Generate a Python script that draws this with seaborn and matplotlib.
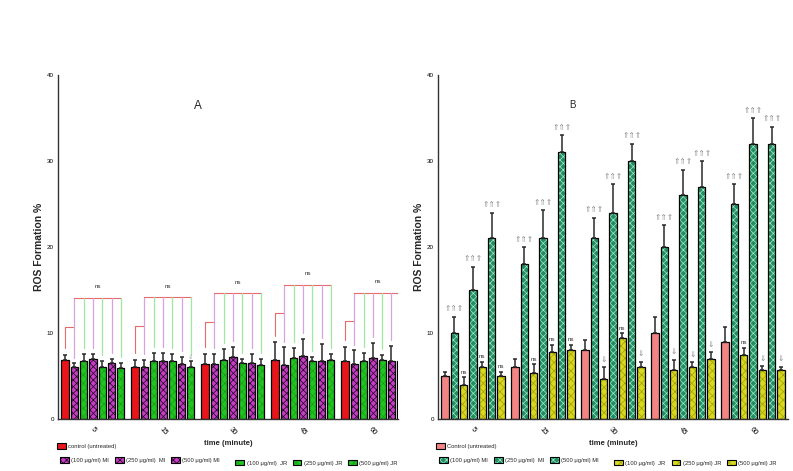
import matplotlib.pyplot as plt
from matplotlib.colors import to_rgba
from matplotlib.patches import Patch
import numpy as np
import pandas as pd
import seaborn as sns

times = ["5", "15", "30", "45", "60"]
series = ["control", "MI100", "JR100", "MI250", "JR250", "MI500", "JR500"]

# panel A: means and upper error per series, one value per time point
a_control = [6.9, 6.0, 6.4, 6.9, 6.7]
a_mi100 = [6.0, 6.0, 6.4, 6.3, 6.4]
a_jr100 = [6.7, 6.8, 6.9, 7.1, 6.8]
a_mi250 = [7.0, 6.8, 7.2, 7.3, 7.1]
a_jr250 = [6.0, 6.8, 6.5, 6.7, 6.9]
a_mi500 = [6.5, 6.4, 6.5, 6.7, 6.8]
a_jr500 = [5.9, 6.1, 6.3, 6.9, 6.7]
a_control_err = [0.5, 0.9, 1.2, 2.0, 1.7]
a_mi100_err = [0.5, 0.9, 1.2, 2.1, 1.6]
a_jr100_err = [0.9, 0.9, 1.2, 1.2, 0.9]
a_mi250_err = [0.5, 0.9, 1.2, 2.0, 1.7]
a_jr250_err = [0.7, 0.8, 0.5, 0.5, 0.5]
a_mi500_err = [0.5, 0.8, 1.1, 2.0, 1.7]
a_jr500_err = [0.6, 0.6, 0.7, 0.7, 0.5]
a_step = [10.7, 10.85, 11.3, 12.3, 11.4]
a_top = [14.1, 14.15, 14.6, 15.6, 14.7]

# panel B
b_control = [5.0, 6.0, 8.0, 10.0, 9.0]
b_mi100 = [10.0, 18.0, 21.0, 20.0, 25.0]
b_jr100 = [4.0, 5.4, 4.7, 5.7, 7.4]
b_mi250 = [15.0, 21.0, 24.0, 26.0, 32.0]
b_jr250 = [6.0, 7.8, 9.4, 6.0, 5.7]
b_mi500 = [21.0, 31.0, 30.0, 27.0, 32.0]
b_jr500 = [5.0, 8.0, 6.0, 7.0, 5.7]
b_control_err = [0.5, 1.0, 1.2, 1.9, 1.7]
b_mi100_err = [1.9, 2.0, 2.4, 2.5, 2.3]
b_jr100_err = [0.85, 0.95, 1.35, 1.2, 0.9]
b_mi250_err = [2.7, 3.3, 3.3, 3.0, 3.0]
b_jr250_err = [0.65, 0.8, 0.55, 0.6, 0.45]
b_mi500_err = [3.0, 2.0, 2.0, 3.0, 2.0]
b_jr500_err = [0.5, 0.6, 0.65, 0.75, 0.4]
b_marks = [
    ["", "⇑⇑⇑", "ns", "⇑⇑⇑", "ns", "⇑⇑⇑", "ns"],
    ["", "⇑⇑⇑", "ns", "⇑⇑⇑", "ns", "⇑⇑⇑", "ns"],
    ["", "⇑⇑⇑", "⇓", "⇑⇑⇑", "ns", "⇑⇑⇑", "⇓"],
    ["", "⇑⇑⇑", "⇓", "⇑⇑⇑", "⇓", "⇑⇑⇑", "⇓"],
    ["", "⇑⇑⇑", "ns", "⇑⇑⇑", "⇓", "⇑⇑⇑", "⇓"],
]

labels_a = ["control (untreated)", "(100 μg/ml) MI", "(100 μg/ml)  JR",
            "(250 μg/ml)  MI", "(250 μg/ml) JR", "(500 μg/ml) MI", "(500 μg/ml) JR"]
labels_b = ["Control (untreated)", "(100 μg/ml) MI", "(100 μg/ml)  JR",
            "(250 μg/ml)  MI", "(250 μg/ml) JR", "(500 μg/ml) MI", "(500 μg/ml) JR"]

# face, hatch, hatch colour
style_a = {
    "control": ("#e8161b", "", "black"),
    "MI": ("#c53cc5", "xxxxx", "#1a001a"),
    "JR": ("#22c422", "xxxx", "#14a014"),
}
style_b = {
    "control": ("#f28484", "", "black"),
    "MI": ("#1d8f63", "xxxxx", "#a8e8c8"),
    "JR": ("#d8d81e", "xxxx", "#a0a010"),
}

sns.set_style("white")
plt.rcParams["font.family"] = ["Liberation Sans", "DejaVu Sans"]
plt.rcParams["hatch.linewidth"] = 0.5


def kind(s):
    return "control" if s == "control" else s[:2]


def styled_patch(face, hatch, hcolor):
    p = Patch(facecolor=face, edgecolor="black", hatch=hatch or None, linewidth=0.8)
    p._hatch_color = to_rgba(hcolor)
    return p


def draw_panel(ax, values, errors, style):
    rows = []
    for s in series:
        for t, v in zip(times, values[s]):
            rows.append({"time": t, "series": s, "value": v})
    df = pd.DataFrame(rows)
    sns.barplot(data=df, x="time", y="value", hue="series", hue_order=series,
                order=times, errorbar=None, width=0.93, gap=0.22,
                edgecolor="black", linewidth=0.9, legend=False, ax=ax)
    centers = {}
    for s, cont in zip(series, ax.containers):
        face, hatch, hcolor = style[kind(s)]
        xs = []
        for bar in cont:
            bar.set_facecolor(face)
            bar.set_edgecolor("black")
            if hatch:
                bar.set_hatch(hatch)
                bar._hatch_color = to_rgba(hcolor)
            xs.append(bar.get_x() + bar.get_width() / 2)
        centers[s] = np.array(xs)
        err = np.array(errors[s])
        ax.errorbar(xs, values[s], yerr=[np.zeros_like(err), err], fmt="none",
                    ecolor="#2a2a2a", elinewidth=1.1, capsize=1.6, capthick=1.1,
                    zorder=3)
    ax.set_ylim(0, 40)
    ax.set_yticks([0, 10, 20, 30, 40])
    sns.despine(ax=ax)
    for sp in ["left", "bottom"]:
        ax.spines[sp].set_color("#333333")
        ax.spines[sp].set_linewidth(1.0)
    ax.tick_params(axis="both", which="both", direction="out", length=2,
                   width=0.8, labelsize=4.5, pad=1, colors="#333333")
    ax.tick_params(axis="both", labelcolor="black")
    ax.tick_params(axis="x", labelsize=5.5, pad=3)
    plt.setp(ax.get_xticklabels(), rotation=-50, ha="center", va="top")
    ax.set_ylabel("ROS Formation %", fontsize=7.5, fontweight="bold", labelpad=2)
    ax.set_xlabel("time (minute)", fontsize=5.5, fontweight="bold", labelpad=2)
    return centers


fig = plt.figure(figsize=(7.93, 4.71), dpi=100)
ax_a = fig.add_axes([0.0731, 0.1104, 0.4289, 0.7304])
ax_b = fig.add_axes([0.5523, 0.1104, 0.4414, 0.7304])

vals_a = dict(zip(series, [a_control, a_mi100, a_jr100, a_mi250, a_jr250, a_mi500, a_jr500]))
errs_a = dict(zip(series, [a_control_err, a_mi100_err, a_jr100_err, a_mi250_err,
                           a_jr250_err, a_mi500_err, a_jr500_err]))
vals_b = dict(zip(series, [b_control, b_mi100, b_jr100, b_mi250, b_jr250, b_mi500, b_jr500]))
errs_b = dict(zip(series, [b_control_err, b_mi100_err, b_jr100_err, b_mi250_err,
                           b_jr250_err, b_mi500_err, b_jr500_err]))

ca = draw_panel(ax_a, vals_a, errs_a, style_a)
cb = draw_panel(ax_b, vals_b, errs_b, style_b)
ax_a.set_xlim(-0.5, 4.36)
ax_b.set_xlim(-0.5, 4.5)

# significance brackets, panel A
red, purple, green = "#e86a6a", "#d9a2e0", "#9fe89f"
for i in range(len(times)):
    tops = {s: vals_a[s][i] + errs_a[s][i] for s in series}
    xc, xm = ca["control"][i], ca["MI100"][i]
    xe = ca["JR500"][i]
    ax_a.plot([xc, xc], [tops["control"] + 0.8, a_step[i]], color=red, lw=0.8)
    ax_a.plot([xc, xm], [a_step[i], a_step[i]], color=red, lw=0.8)
    ax_a.plot([xm, xm], [tops["MI100"] + 0.6, a_top[i]], color=purple, lw=0.9)
    ax_a.plot([xm, xe], [a_top[i], a_top[i]], color=red, lw=0.8)
    for s in series[2:]:
        col = purple if s.startswith("MI") else green
        x = ca[s][i]
        ax_a.plot([x, x], [tops[s] + 0.7, a_top[i]], color=col, lw=0.9)
    ax_a.text((xm + xe) / 2, a_top[i] + 1.3, "ns", fontsize=4.5, ha="center",
              va="center", color="#333333")
ax_a.text(ca["JR500"][1], vals_a["JR500"][1] + errs_a["JR500"][1] + 0.2, "⇓",
          fontsize=4.5, ha="center", va="bottom", color="#999999")

# markers above bars, panel B
for i in range(len(times)):
    for s, m in zip(series, b_marks[i]):
        if not m:
            continue
        y = vals_b[s][i] + errs_b[s][i]
        if m == "ns":
            ax_b.text(cb[s][i], y + 0.3, m, fontsize=4.5, ha="center", va="bottom",
                      color="#333333")
        else:
            ax_b.text(cb[s][i], y + 0.4, m, fontsize=5.5, ha="center", va="bottom",
                      color="#8c8c8c", family=["DejaVu Sans"])

ax_a.text(0.41, 0.9, "A", transform=ax_a.transAxes, fontsize=8.5, ha="center")
ax_b.text(0.385, 0.905, "B", transform=ax_b.transAxes, fontsize=7, ha="center")


def add_legend(style, labels, x0):
    hs = [styled_patch(*style[kind(s)]) for s in series]
    kw = dict(frameon=False, fontsize=4.2, handlelength=1.5, handleheight=1.1,
              handletextpad=0.4, borderpad=0, borderaxespad=0, columnspacing=1.0,
              loc="center left")
    fig.legend(hs[:1], labels[:1], bbox_to_anchor=(x0, 0.053), **kw)
    fig.legend([hs[1], hs[3], hs[5]], [labels[1], labels[3], labels[5]], ncol=3,
               bbox_to_anchor=(x0 + 0.004, 0.0234), **kw)
    fig.legend([hs[2], hs[4], hs[6]], [labels[2], labels[4], labels[6]], ncol=3,
               bbox_to_anchor=(x0 + 0.225, 0.0175), **kw)


add_legend(style_a, labels_a, 0.0719)
add_legend(style_b, labels_b, 0.5498)

fig.savefig("out.png", dpi=100, facecolor="white")
